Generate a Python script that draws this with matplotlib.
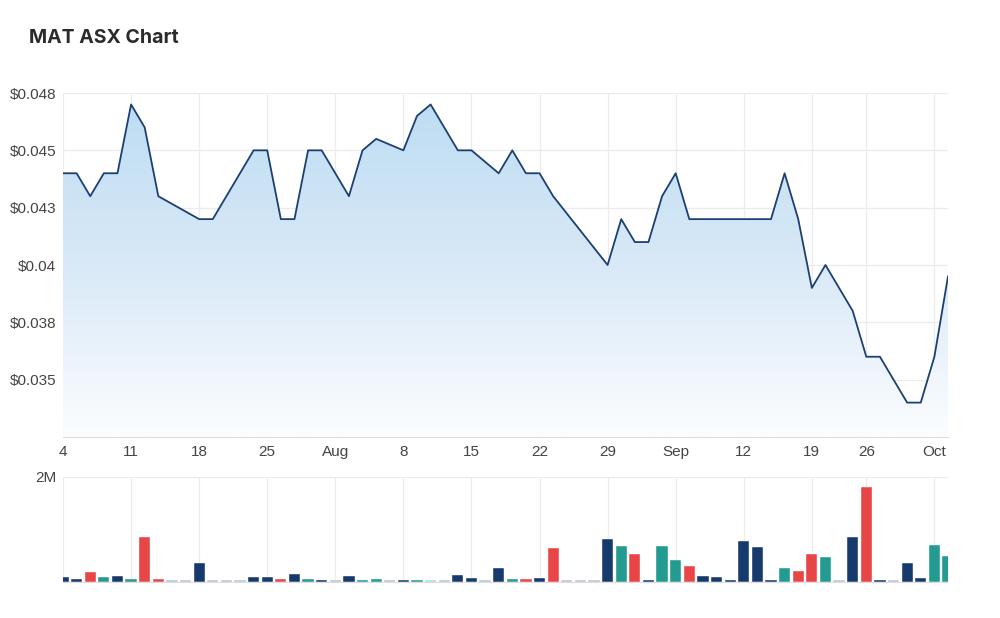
import numpy as np
import matplotlib
matplotlib.use("Agg")
import matplotlib.pyplot as plt
from matplotlib.patches import Polygon
from matplotlib.colors import LinearSegmentedColormap

nan = np.nan
# Trading-day prices (NaN = no trade, line joins neighbours)
price = [0.044, 0.044, 0.043, 0.044, 0.044, 0.047, 0.046, 0.043, nan, nan,
         0.042, 0.042, nan, nan, 0.045, 0.045, 0.042, 0.042, 0.045, 0.045,
         nan, 0.043, 0.045, 0.0455, nan, 0.045, 0.0465, 0.047, nan, 0.045,
         0.045, nan, 0.044, 0.045, 0.044, 0.044, 0.043, nan, nan, nan,
         0.040, 0.042, 0.041, 0.041, 0.043, 0.044, 0.042, 0.042, 0.042, 0.042,
         0.042, 0.042, 0.042, 0.044, 0.042, 0.039, 0.040, nan, 0.038, 0.036,
         0.036, nan, 0.034, 0.034, 0.036, 0.0395]

# Volume in millions
volume = [0.095, 0.057, 0.196, 0.095, 0.114, 0.057, 0.864, 0.057, 0.03, 0.03,
          0.36, 0.03, 0.03, 0.03, 0.095, 0.095, 0.057, 0.158, 0.057, 0.038,
          0.03, 0.114, 0.032, 0.057, 0.03, 0.038, 0.032, 0.03, 0.03, 0.139,
          0.076, 0.03, 0.259, 0.057, 0.057, 0.076, 0.656, 0.03, 0.03, 0.03,
          0.82, 0.688, 0.524, 0.038, 0.688, 0.416, 0.297, 0.114, 0.095, 0.038,
          0.782, 0.662, 0.038, 0.259, 0.215, 0.536, 0.479, 0.03, 0.864, 1.81,
          0.038, 0.03, 0.36, 0.076, 0.707, 0.498]

# Bar kind: n = unchanged, u = up, d = down, z = no trade, p = light up
kind = ['n', 'n', 'd', 'u', 'n', 'u', 'd', 'd', 'z', 'z',
        'n', 'z', 'z', 'z', 'n', 'n', 'd', 'n', 'u', 'n',
        'z', 'n', 'u', 'u', 'z', 'n', 'u', 'p', 'z', 'n',
        'n', 'z', 'n', 'u', 'd', 'n', 'd', 'z', 'z', 'z',
        'n', 'u', 'd', 'n', 'u', 'u', 'd', 'n', 'n', 'n',
        'n', 'n', 'n', 'u', 'd', 'd', 'u', 'z', 'n', 'd',
        'n', 'z', 'n', 'n', 'u', 'u']

tick_idx = [0, 5, 10, 15, 20, 25, 30, 35, 40, 45, 50, 55, 59, 64]
tick_lab = ['4', '11', '18', '25', 'Aug', '8', '15', '22', '29', 'Sep', '12', '19', '26', 'Oct']

ytick_vals = [0.035, 0.0375, 0.04, 0.0425, 0.045, 0.0475]
ytick_lab = ['$0.035', '$0.038', '$0.04', '$0.043', '$0.045', '$0.048']

LINE = '#1d3f72'
NAVY = '#173a6c'
TEAL = '#239b91'
RED = '#e84646'
GREY = '#b9c3d1'
PALE = '#a8dcd6'
GRID = '#ececec'
TXT = '#444444'
cmap = {'n': NAVY, 'u': TEAL, 'd': RED, 'z': GREY, 'p': PALE}

plt.rcParams['font.family'] = ['Liberation Sans', 'DejaVu Sans']

fig = plt.figure(figsize=(10, 6.18), dpi=100)
ax = fig.add_axes([0.063, 1 - 437 / 618, 0.948 - 0.063, (437 - 93) / 618])
axv = fig.add_axes([0.063, 1 - 582 / 618, 0.948 - 0.063, (582 - 477) / 618])

n = len(price)
idx = np.arange(n)
p = np.array(price, dtype=float)
ok = ~np.isnan(p)
xs, ys = idx[ok], p[ok]

ymin, ymax = 0.0325, 0.0475
ax.set_xlim(0, n - 1)
ax.set_ylim(ymin, ymax)

# gradient fill under line
grad = np.linspace(0, 1, 256).reshape(-1, 1)
gcm = LinearSegmentedColormap.from_list('g', ['#fbfdff', '#d9e9f7', '#bcdcf3'])
im = ax.imshow(grad, cmap=gcm, aspect='auto', origin='lower',
               extent=[0, n - 1, ymin, ymax], zorder=1)
poly = Polygon(np.column_stack([np.r_[xs[0], xs, xs[-1]], np.r_[ymin, ys, ymin]]),
               closed=True, facecolor='none', edgecolor='none')
ax.add_patch(poly)
im.set_clip_path(poly)
ax.plot(xs, ys, color=LINE, lw=1.3, zorder=3)

for a in (ax, axv):
    a.set_xticks(tick_idx)
    a.grid(True, color=GRID, lw=0.9, zorder=0)
    a.set_axisbelow(True)
    for s in a.spines.values():
        s.set_visible(False)
    a.tick_params(length=0, colors=TXT, labelsize=11)

ax.set_yticks(ytick_vals)
ax.set_yticklabels(ytick_lab)
ax.set_xticklabels(tick_lab)
ax.spines['bottom'].set_visible(True)
ax.spines['bottom'].set_color('#dddddd')
ax.tick_params(axis='y', pad=5)
ax.tick_params(axis='x', pad=6)

axv.bar(idx, volume, width=0.82, color=[cmap[k] for k in kind],
        edgecolor='white', linewidth=0.3, zorder=2)
axv.set_xlim(0, n - 1)
axv.set_ylim(0, 2.0)
axv.set_yticks([2.0])
axv.set_yticklabels(['2M'])
axv.set_xticklabels([])
axv.spines['bottom'].set_visible(True)
axv.spines['bottom'].set_color('#dddddd')
axv.tick_params(axis='y', pad=5)

fig.text(0.029, 1 - 38 / 618, 'MAT ASX Chart', fontsize=14, fontweight='bold',
         color='#2b2b2b', va='center', ha='left', family=['Inter', 'DejaVu Sans'])

fig.savefig('out.png', dpi=100, facecolor='white')
